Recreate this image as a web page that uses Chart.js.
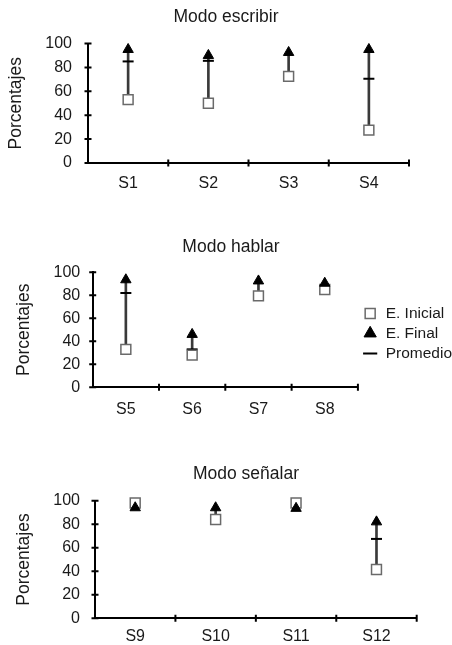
<!DOCTYPE html>
<html>
<head>
<meta charset="utf-8">
<script src="https://cdn.jsdelivr.net/npm/chart.js@4.4.1/dist/chart.umd.min.js"></script>
<style>
  html, body { margin: 0; padding: 0; background: #fff; width: 452px; height: 645px; overflow: hidden; }
  .panel { position: absolute; }
</style>
</head>
<body>
<div class="panel" style="left:0;top:0;width:452px;height:200px"><canvas id="chartEscribir"></canvas></div>
<div class="panel" style="left:0;top:220px;width:452px;height:205px"><canvas id="chartHablar"></canvas></div>
<div class="panel" style="left:10px;top:440px;width:472px;height:205px"><canvas id="chartSenalar"></canvas></div>
<script>
// --- data (percentages) ---
const yTicks = [0, 20, 40, 60, 80, 100];
const legendNames = ['E. Inicial', 'E. Final', 'Promedio'];

const escribirLabels = ['S1', 'S2', 'S3', 'S4'];
const escribirInicial = [53, 50, 72.5, 27.5];
const escribirFinal = [95, 90, 92.5, 95];
const escribirPromedio = [85, 85.5, null, 70.5];

const hablarLabels = ['S5', 'S6', 'S7', 'S8'];
const hablarInicial = [33, 28, 79.5, 85];
const hablarFinal = [93.5, 46, 92.5, 90.5];
const hablarPromedio = [82, 33, null, null];

const senalarLabels = ['S9', 'S10', 'S11', 'S12'];
const senalarInicial = [98, 84, 98, 41.5];
const senalarFinal = [94, 94, 93.5, 82];
const senalarPromedio = [null, null, null, 67.5];

Chart.defaults.font.family = "'Liberation Sans', Arial, sans-serif";
Chart.defaults.color = '#1a1a1a';

// small "+" style tick marks crossing both axes
const crossTicks = {
  id: 'crossTicks',
  afterDraw(chart) {
    const { ctx, scales: { x, y } } = chart;
    ctx.save();
    ctx.strokeStyle = '#000';
    ctx.lineWidth = 2;
    ctx.beginPath();
    y.ticks.forEach(t => {
      const py = y.getPixelForValue(t.value);
      ctx.moveTo(x.left - 3.5, py);
      ctx.lineTo(x.left + 3.5, py);
    });
    const n = x.ticks.length;
    for (let i = 1; i <= n; i++) {
      const px = x.left + i * (x.right - x.left) / n;
      ctx.moveTo(px, y.bottom - 3.5);
      ctx.lineTo(px, y.bottom + 3.5);
    }
    ctx.stroke();
    ctx.restore();
  }
};

function makePanel(id, p) {
  const ranges = p.labels.map((_, i) => [p.inicial[i], p.final[i]]);

  const scales = {
    x: {
      offset: true,
      grid: { display: false, drawTicks: false },
      border: { color: '#000', width: 2 },
      ticks: { font: { size: 16 }, padding: p.xTickPad, color: '#1a1a1a' },
      afterFit: s => { s.height = p.xHeight; }
    },
    y: {
      min: 0,
      max: 100,
      grid: { display: false, drawTicks: false },
      border: { color: '#000', width: 2 },
      afterBuildTicks: s => { s.ticks = yTicks.map(v => ({ value: v })); },
      ticks: { font: { size: 16 }, padding: p.yTickPad, color: '#1a1a1a' },
      title: { display: true, text: 'Porcentajes', font: { size: 17.5 }, padding: { top: p.yTitlePad, bottom: 0 }, color: '#1a1a1a' },
      afterFit: s => { s.width = p.yWidth; }
    }
  };
  if (p.spacer) {
    scales.spacer = {
      type: 'linear',
      position: 'right',
      display: true,
      grid: { display: false, drawTicks: false },
      border: { display: false },
      ticks: { display: false },
      afterFit: s => { s.width = p.spacer; }
    };
  }

  return new Chart(document.getElementById(id), {
    type: 'bar',
    data: {
      labels: p.labels,
      datasets: [
        {
          label: 'rango',
          data: ranges,
          backgroundColor: '#3a3a3a',
          barThickness: 2,
          borderWidth: 0,
          borderSkipped: false,
          clip: false,
          order: 4
        },
        {
          type: 'line',
          label: legendNames[0],
          data: p.inicial,
          showLine: false,
          clip: false,
          pointStyle: 'rect',
          pointRadius: 7,
          pointBorderWidth: 1.5,
          pointBackgroundColor: '#fff',
          pointBorderColor: '#6a6a6a',
          backgroundColor: '#fff',
          borderColor: '#6a6a6a',
          order: 2
        },
        {
          type: 'line',
          label: legendNames[1],
          data: p.final,
          showLine: false,
          clip: false,
          pointStyle: 'triangle',
          pointRadius: 6,
          pointBorderWidth: 1,
          pointBackgroundColor: '#000',
          pointBorderColor: '#000',
          backgroundColor: '#000',
          borderColor: '#000',
          order: 1
        },
        {
          type: 'line',
          label: legendNames[2],
          data: p.promedio,
          showLine: false,
          clip: false,
          pointStyle: 'line',
          pointRadius: 5.5,
          pointBorderWidth: 2,
          pointBorderColor: '#000',
          borderColor: '#000',
          borderWidth: 2,
          order: 3
        }
      ]
    },
    options: {
      responsive: true,
      maintainAspectRatio: false,
      animation: false,
      events: [],
      layout: { padding: { right: p.legend ? -10 : 0 } },
      scales: scales,
      plugins: {
        title: {
          display: true,
          text: p.title,
          font: { size: 17.5, weight: 'normal' },
          color: '#1a1a1a',
          padding: { top: p.titleTop, bottom: p.titleBottom }
        },
        tooltip: { enabled: false },
        legend: p.legend ? {
          display: true,
          position: 'right',
          fullSize: false,
          // empty legend title only nudges the items a few px down
          title: { display: true, text: ' ', font: { size: 6 }, padding: 0 },
          labels: {
            usePointStyle: true,
            boxWidth: 16,
            boxHeight: 10,
            padding: 4.5,
            font: { size: 15.5 },
            color: '#1a1a1a',
            filter: item => item.datasetIndex !== 0,
            sort: (a, b) => a.datasetIndex - b.datasetIndex
          }
        } : { display: false }
      }
    },
    plugins: [crossTicks]
  });
}

makePanel('chartEscribir', {
  title: 'Modo escribir', labels: escribirLabels,
  inicial: escribirInicial, final: escribirFinal, promedio: escribirPromedio,
  titleTop: 7, titleBottom: 15.5, yWidth: 88, yTitlePad: 6, yTickPad: 16,
  xHeight: 37, xTickPad: 11, spacer: 43, legend: false
});

makePanel('chartHablar', {
  title: 'Modo hablar', labels: hablarLabels,
  inicial: hablarInicial, final: hablarFinal, promedio: hablarPromedio,
  titleTop: 16.5, titleBottom: 14.8, yWidth: 92.7, yTitlePad: 14, yTickPad: 12.5,
  xHeight: 37.7, xTickPad: 12.5, spacer: 0, legend: true
});

makePanel('chartSenalar', {
  title: 'Modo señalar', labels: senalarLabels,
  inicial: senalarInicial, final: senalarFinal, promedio: senalarPromedio,
  titleTop: 23.2, titleBottom: 16.5, yWidth: 85, yTitlePad: 4, yTickPad: 15,
  xHeight: 26.7, xTickPad: 8.5, spacer: 65.3, legend: false
});
</script>
</body>
</html>
